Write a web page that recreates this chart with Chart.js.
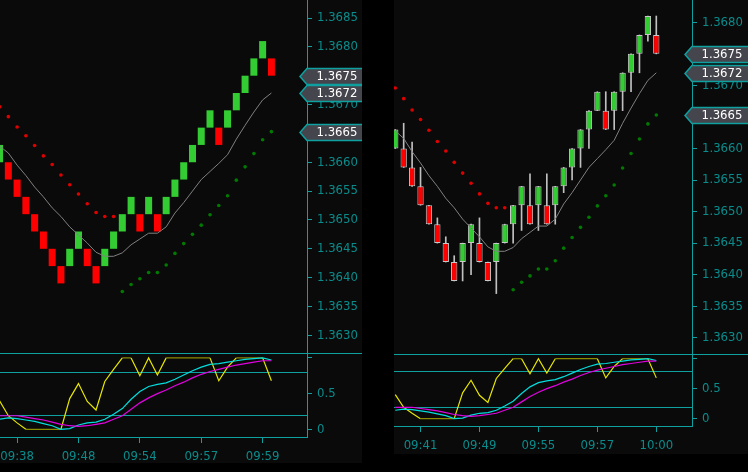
<!DOCTYPE html>
<html>
<head>
<meta charset="utf-8">
<script src="https://cdn.jsdelivr.net/npm/chart.js@4.4.1/dist/chart.umd.min.js"></script>
<style>
  html, body { margin: 0; padding: 0; background: #000; }
  body { width: 748px; height: 472px; position: relative; overflow: hidden; }
  .panel { position: absolute; background: #0a0a0a; }
  .panel canvas { position: absolute; left: 0; display: block; }
</style>
</head>
<body>
<div class="panel" style="left:0;top:0;width:362px;height:463px">
  <canvas id="leftPrice" width="362" height="353" style="top:0"></canvas>
  <canvas id="leftInd" width="362" height="110" style="top:353px"></canvas>
</div>
<div class="panel" style="left:394px;top:0;width:354px;height:454px">
  <canvas id="rightPrice" width="354" height="354" style="top:0"></canvas>
  <canvas id="rightInd" width="354" height="100" style="top:354px"></canvas>
</div>
<script>
// bars (3 pip boxes)
const opens  = [1.3660,1.3660,1.3657,1.3654,1.3651,1.3648,1.3645,1.3642,1.3642,1.3645,1.3645,1.3642,1.3642,1.3645,1.3648,1.3651,
                1.3651,1.3651,1.3651,1.3651,1.3654,1.3657,1.3660,1.3663,1.3666,1.3666,1.3666,1.3669,1.3672,1.3675,1.3678,1.3678];
const closes = [1.3663,1.3657,1.3654,1.3651,1.3648,1.3645,1.3642,1.3639,1.3645,1.3648,1.3642,1.3639,1.3645,1.3648,1.3651,1.3654,
                1.3648,1.3654,1.3648,1.3654,1.3657,1.3660,1.3663,1.3666,1.3669,1.3663,1.3669,1.3672,1.3675,1.3678,1.3681,1.3675];
const highs  = [1.3663,1.3664,1.3661,1.3657,1.3651,1.3649,1.3646,1.3643,1.3645,1.3648,1.3649,1.3642,1.3645,1.3648,1.3651,1.3654,
                1.3656,1.3654,1.3656,1.3654,1.3657,1.3660,1.3663,1.3666,1.3669,1.3669,1.3669,1.3672,1.3675,1.3678,1.3681,1.3681];
const lows   = [1.3660,1.3657,1.3654,1.3651,1.3648,1.3645,1.3642,1.3639,1.3639,1.3640,1.3642,1.3639,1.3637,1.3645,1.3645,1.3647,
                1.3648,1.3647,1.3648,1.3648,1.3653,1.3655,1.3657,1.3660,1.3666,1.3663,1.3663,1.3666,1.3669,1.3672,1.3677,1.3675];
const movAvg = [1.36628,1.36616,1.36595,1.36577,1.36557,1.36540,1.36521,1.36506,1.36488,1.36474,1.36460,1.36444,1.36437,1.36437,1.36443,1.36457,
                1.36467,1.36477,1.36477,1.36488,1.36512,1.36530,1.36550,1.36570,1.36584,1.36598,1.36613,1.36640,1.36664,1.36687,1.36708,1.36720];
const sarAbove = [1.36696,1.36679,1.36661,1.36646,1.36629,1.36611,1.36596,1.36578,1.36561,1.36545,1.36528,1.36513,1.36506,1.36506,
                  null,null,null,null,null,null,null,null,null,null,null,null,null,null,null,null,null,null];
const sarBelow = [null,null,null,null,null,null,null,null,null,null,null,null,null,null,
                  1.36376,1.36388,1.36398,1.36409,1.36409,1.36422,1.36442,1.36459,1.36475,1.36491,1.36509,1.36525,1.36542,1.36569,1.36592,1.36615,1.36639,1.36653];

// oscillator panel
const kLine = [0.40,0.19,0.09,0,0,0,0,0,0.43,0.64,0.39,0.27,0.67,0.84,1,1,0.75,1,0.76,1,1,1,1,1,1,0.68,0.87,1,1,1,1,0.68];
const cLine = [0.14,0.16,0.15,0.13,0.11,0.08,0.05,0.00,0.01,0.06,0.09,0.10,0.14,0.21,0.29,0.42,0.53,0.60,0.63,0.65,0.70,0.76,0.82,0.87,0.91,0.92,0.94,0.96,0.98,0.99,1.00,0.97];
const mLine = [0.19,0.19,0.19,0.17,0.15,0.13,0.10,0.07,0.05,0.04,0.05,0.07,0.09,0.14,0.19,0.28,0.37,0.44,0.50,0.55,0.61,0.66,0.72,0.77,0.81,0.84,0.87,0.90,0.92,0.94,0.96,0.96];
const levels = [0.2, 0.8];
const indTicks = [0, 0.5, 1];

const leftPriceTicks  = [1.3630,1.3635,1.3640,1.3645,1.3650,1.3655,1.3660,1.3665,1.3670,1.3675,1.3680,1.3685];
const rightPriceTicks = [1.3630,1.3635,1.3640,1.3645,1.3650,1.3655,1.3660,1.3665,1.3670,1.3675,1.3680];
const leftTimeIdx  = [2, 9, 16, 23, 30];
const leftTimes    = ['09:38','09:48','09:54','09:57','09:59'];
const rightTimeIdx = [3, 10, 17, 24, 31];
const rightTimes   = ['09:41','09:49','09:55','09:57','10:00'];

const axisColor = '#0fa0a0';
const textColor = '#0a8c8c';
const upColor = '#33cc33', downColor = '#ff0000';

Chart.defaults.font.family = "'Liberation Sans Narrow', 'Arial Narrow', 'DejaVu Sans Condensed', sans-serif";
Chart.defaults.font.size = 13;

const idx = closes.map((_, i) => i);
const pts = arr => arr.map((v, i) => ({ x: i, y: v }));
const barColors = idx.map(i => closes[i] > opens[i] ? upColor : downColor);

function tagPlugin(values) {
  return {
    id: 'tags',
    afterDraw(chart) {
      const ctx = chart.ctx, a = chart.chartArea, ys = chart.scales.y;
      ctx.save();
      values.forEach(v => {
        const yc = Math.round(ys.getPixelForValue(v)) + 0.5, h = 8;
        ctx.beginPath();
        ctx.moveTo(a.right - 7, yc);
        ctx.lineTo(a.right, yc - h);
        ctx.lineTo(chart.width + 2, yc - h);
        ctx.lineTo(chart.width + 2, yc + h);
        ctx.lineTo(a.right, yc + h);
        ctx.closePath();
        ctx.fillStyle = '#45454d';
        ctx.fill();
        ctx.strokeStyle = axisColor;
        ctx.lineWidth = 1.5;
        ctx.stroke();
        ctx.fillStyle = '#ffffff';
        ctx.font = "13px 'Liberation Sans Narrow', 'Arial Narrow', 'DejaVu Sans Condensed', sans-serif";
        ctx.textBaseline = 'middle';
        ctx.textAlign = 'left';
        ctx.fillText(v.toFixed(4), a.right + 9.5, yc + 0.5);
      });
      ctx.restore();
    }
  };
}

const levelPlugin = {
  id: 'levels',
  beforeDatasetsDraw(chart) {
    const ctx = chart.ctx, a = chart.chartArea, ys = chart.scales.y;
    ctx.save();
    ctx.strokeStyle = axisColor;
    ctx.lineWidth = 1;
    levels.forEach(v => {
      const py = Math.round(ys.getPixelForValue(v)) + 0.5;
      ctx.beginPath(); ctx.moveTo(a.left, py); ctx.lineTo(a.right, py); ctx.stroke();
    });
    ctx.beginPath(); ctx.moveTo(0, 0.5); ctx.lineTo(chart.width, 0.5); ctx.stroke();
    ctx.restore();
  }
};

function yAxis(width, min, max, tickList, fmt) {
  return {
    type: 'linear', position: 'right', min, max,
    afterBuildTicks: s => { s.ticks = tickList.map(v => ({ value: v })); },
    afterFit: s => { s.width = width; s.paddingTop = 0; s.paddingBottom = 0; },
    grid: { drawOnChartArea: false, drawTicks: true, tickLength: 5, color: axisColor },
    border: { color: axisColor, width: 1 },
    ticks: { color: textColor, padding: 5, autoSkip: false, callback: fmt }
  };
}

function priceChart(id, o) {
  const datasets = [
    { type: 'line', data: pts(movAvg), borderColor: '#808080', borderWidth: 1, pointRadius: 0, order: 0 },
    { type: 'line', data: pts(sarAbove), showLine: false, pointRadius: 1.8, pointBorderWidth: 0,
      pointBackgroundColor: '#e00000', order: 0 },
    { type: 'line', data: pts(sarBelow), showLine: false, pointRadius: 1.8, pointBorderWidth: 0,
      pointBackgroundColor: '#007a00', order: 0 },
    { type: 'bar', data: idx.map(i => ({ x: i, y: [opens[i], closes[i]] })), backgroundColor: barColors,
      borderColor: o.candles ? '#c8c8c8' : barColors, borderWidth: o.candles ? 1 : 0, borderSkipped: false,
      grouped: false, barPercentage: o.barPct, categoryPercentage: 1, order: 1 }
  ];
  if (o.candles) {
    datasets.push({ type: 'bar', data: idx.map(i => ({ x: i, y: [lows[i], highs[i]] })), backgroundColor: '#c0c0c0',
      borderWidth: 0, grouped: false, barThickness: 1, order: 2 });
  }
  new Chart(document.getElementById(id), {
    type: 'bar',
    data: { datasets },
    options: {
      responsive: false, animation: false, devicePixelRatio: 1,
      layout: { padding: 0, autoPadding: false },
      plugins: { legend: { display: false }, tooltip: { enabled: false } },
      scales: {
        x: { type: 'linear', min: o.xMin, max: o.xMax, display: false, offset: false, grid: { offset: false } },
        y: yAxis(o.axisW, o.yMin, o.yMax, o.priceTicks, v => v.toFixed(4))
      }
    },
    plugins: [tagPlugin([closes[closes.length - 1], movAvg[movAvg.length - 1], sarBelow[sarBelow.length - 1]])]
  });
}

function indChart(id, o) {
  new Chart(document.getElementById(id), {
    type: 'line',
    data: {
      datasets: [
        { data: pts(mLine), borderColor: '#e000e0', borderWidth: 1.2, pointRadius: 0 },
        { data: pts(cLine), borderColor: '#00dede', borderWidth: 1.2, pointRadius: 0 },
        { data: pts(kLine), borderColor: '#e6e600', borderWidth: 1.2, pointRadius: 0,
          segment: { borderColor: c => (c.p0.parsed.y === c.p1.parsed.y && (c.p0.parsed.y === 0 || c.p0.parsed.y === 1)) ? '#8c8c00' : undefined } }
      ]
    },
    options: {
      responsive: false, animation: false, devicePixelRatio: 1,
      layout: { padding: 0, autoPadding: false },
      plugins: { legend: { display: false }, tooltip: { enabled: false } },
      scales: {
        x: {
          type: 'linear', position: 'bottom', min: o.xMin, max: o.xMax, offset: false,
          afterBuildTicks: s => { s.ticks = o.timeIdx.map(v => ({ value: v })); },
          afterFit: s => { s.height = o.xAxisH; s.paddingLeft = 0; s.paddingRight = 0; },
          grid: { drawOnChartArea: false, drawTicks: true, tickLength: 6, color: axisColor },
          border: { color: axisColor, width: 1 },
          ticks: { color: textColor, padding: 6, maxRotation: 0, autoSkip: false,
                   callback: v => o.times[o.timeIdx.indexOf(v)] }
        },
        y: yAxis(o.axisW, o.yMin, o.yMax, indTicks, v => v === 1 ? '' : String(v))
      }
    },
    plugins: [levelPlugin]
  });
}

priceChart('leftPrice', { candles: false, barPct: 0.8, xMin: 0.05, xMax: 35.06, yMin: 1.362694, yMax: 1.368812,
  axisW: 55, priceTicks: leftPriceTicks });
indChart('leftInd', { xMin: 0.05, xMax: 35.06, yMin: -0.108, yMax: 1.0686, axisW: 55, xAxisH: 26,
  timeIdx: leftTimeIdx, times: leftTimes });
priceChart('rightPrice', { candles: true, barPct: 0.75, xMin: -0.15, xMax: 35.24, yMin: 1.362742, yMax: 1.368354,
  axisW: 56, priceTicks: rightPriceTicks });
indChart('rightInd', { xMin: -0.15, xMax: 35.24, yMin: -0.122, yMax: 1.078, axisW: 56, xAxisH: 28,
  timeIdx: rightTimeIdx, times: rightTimes });
</script>
</body>
</html>
